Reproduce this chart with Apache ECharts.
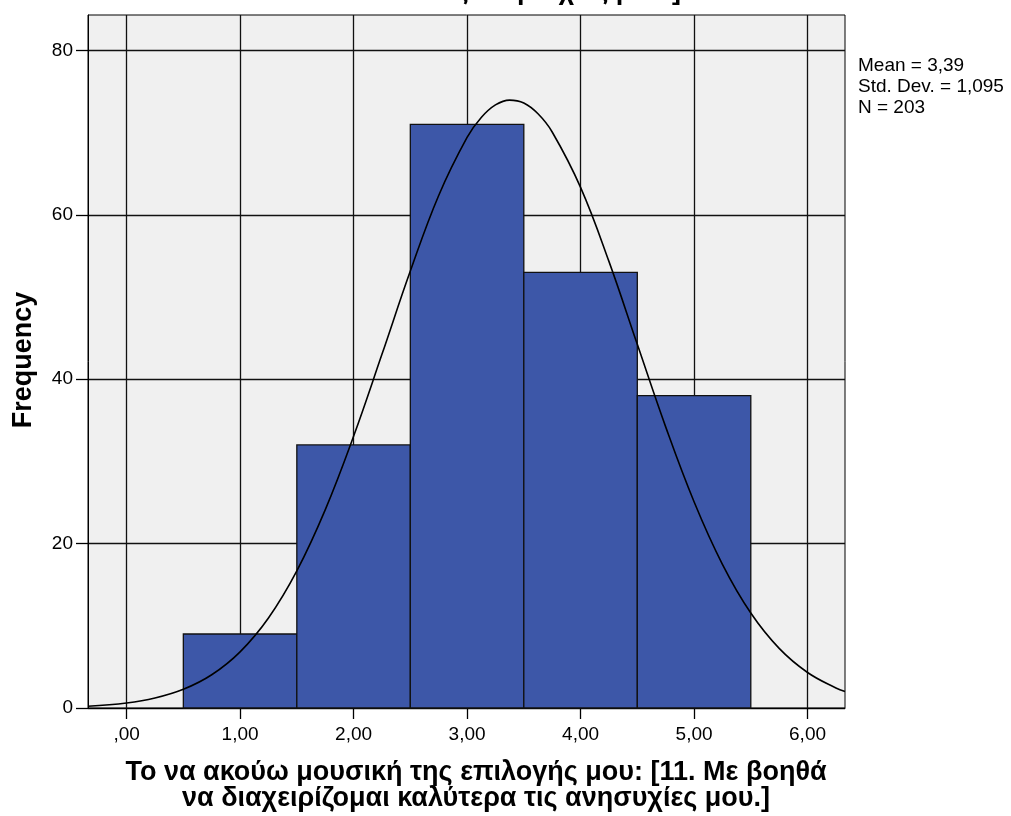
<!DOCTYPE html>
<html>
<head>
<meta charset="utf-8">
<script src="https://cdn.jsdelivr.net/npm/echarts@6/dist/echarts.min.js"></script>
<style>
html,body{margin:0;padding:0;background:#fff;}
#main{width:1011px;height:816px;}
</style>
</head>
<body>
<div id="main"></div>
<script>
// Histogram bins (centre values) and frequencies
var binCenters = [1, 2, 3, 4, 5];
var frequencies = [9, 32, 71, 53, 38];
// Normal curve (x, frequency)
var curveX = [-0.34, 0, 0.25, 0.5, 0.75, 1, 1.25, 1.5, 1.75, 2, 2.25, 2.5, 2.75, 3, 3.125, 3.25, 3.375, 3.5, 3.625, 3.75, 4, 4.25, 4.5, 4.75, 5, 5.25, 5.5, 5.75, 6, 6.25, 6.33];
var curveY = [0.22, 0.61, 1.21, 2.27, 4.04, 6.83, 10.95, 16.68, 24.10, 33.05, 43.02, 53.15, 62.35, 69.41, 71.83, 73.36, 73.95, 73.59, 72.28, 70.07, 63.33, 54.33, 44.24, 34.20, 25.09, 17.48, 11.55, 7.25, 4.32, 2.44, 2.01];
var xTicks = [0, 1, 2, 3, 4, 5, 6];
var yTicks = [0, 20, 40, 60, 80];
var statsLines = ['Mean = 3,39', 'Std. Dev. = 1,095', 'N = 203'];
var xTitle = ['Το να ακούω μουσική της επιλογής μου: [11. Με βοηθά', 'να διαχειρίζομαι καλύτερα τις ανησυχίες μου.]'];
var topTitle = 'τις ανησυχίες μου.]';
var yTitle = 'Frequency';

var histData = binCenters.map(function (c, i) { return [c, frequencies[i]]; });
var curveData = curveX.map(function (x, i) { return [x, curveY[i]]; });

var chart = echarts.init(document.getElementById('main'), null, {renderer: 'canvas'});
var fontFam = '"Liberation Sans", Arial, sans-serif';
chart.setOption({
  animation: false,
  backgroundColor: '#ffffff',
  grid: {
    left: 88, top: 15, width: 757, height: 693,
    show: true, backgroundColor: '#f0f0f0', borderColor: '#000', borderWidth: 1
  },
  xAxis: {
    type: 'value', min: -0.34, max: 6.33,
    axisLine: {show: true, onZero: false, lineStyle: {color: '#000', width: 1}},
    axisTick: {show: true, length: 11, customValues: xTicks, lineStyle: {color: '#000', width: 1.3}},
    axisLabel: {
      customValues: xTicks, margin: 17, color: '#000', fontSize: 19, fontFamily: fontFam,
      formatter: function (v) { var s = v.toFixed(2).replace('.', ','); return s.charAt(0) === '0' ? s.slice(1) : s; }
    },
    splitLine: {show: true, lineStyle: {color: '#111', width: 1.3}}
  },
  yAxis: {
    type: 'value', min: 0, max: 84.3, interval: 20,
    axisLine: {show: true, onZero: false, lineStyle: {color: '#000', width: 1}},
    axisTick: {show: true, length: 12, customValues: yTicks, lineStyle: {color: '#000', width: 1.3}},
    axisLabel: {customValues: yTicks, margin: 15, color: '#000', fontSize: 19, fontFamily: fontFam},
    splitLine: {show: true, lineStyle: {color: '#111', width: 1.3}}
  },
  series: [
    {
      type: 'custom',
      data: histData,
      z: 3,
      renderItem: function (params, api) {
        var c = api.value(0), v = api.value(1);
        var p0 = api.coord([c - 0.5, v]);
        var p1 = api.coord([c + 0.5, 0]);
        return {
          type: 'rect',
          shape: {x: p0[0], y: p0[1], width: p1[0] - p0[0], height: p1[1] - p0[1]},
          style: {fill: '#3d57a8', stroke: '#111', lineWidth: 1.3}
        };
      }
    },
    {
      type: 'line',
      data: curveData,
      smooth: 0.4,
      showSymbol: false,
      z: 4,
      lineStyle: {color: '#000', width: 1.6}
    }
  ],
  graphic: [
    {type: 'text', left: 858, top: 55, style: {text: statsLines.join('\n'), font: '19px ' + fontFam, fill: '#000', lineHeight: 21}},
    {type: 'text', x: 24, y: 360, rotation: Math.PI / 2, style: {text: yTitle, font: 'bold 27px ' + fontFam, fill: '#000', align: 'center', verticalAlign: 'middle'}},
    {type: 'text', x: 476, y: 760, style: {text: xTitle.join('\n'), font: 'bold 27px ' + fontFam, fill: '#000', align: 'center', verticalAlign: 'top', lineHeight: 26}},
    {type: 'text', x: 558, y: 5, style: {text: topTitle, font: 'bold 27px ' + fontFam, fill: '#000', align: 'center', verticalAlign: 'bottom'}}
  ]
});
</script>
</body>
</html>
